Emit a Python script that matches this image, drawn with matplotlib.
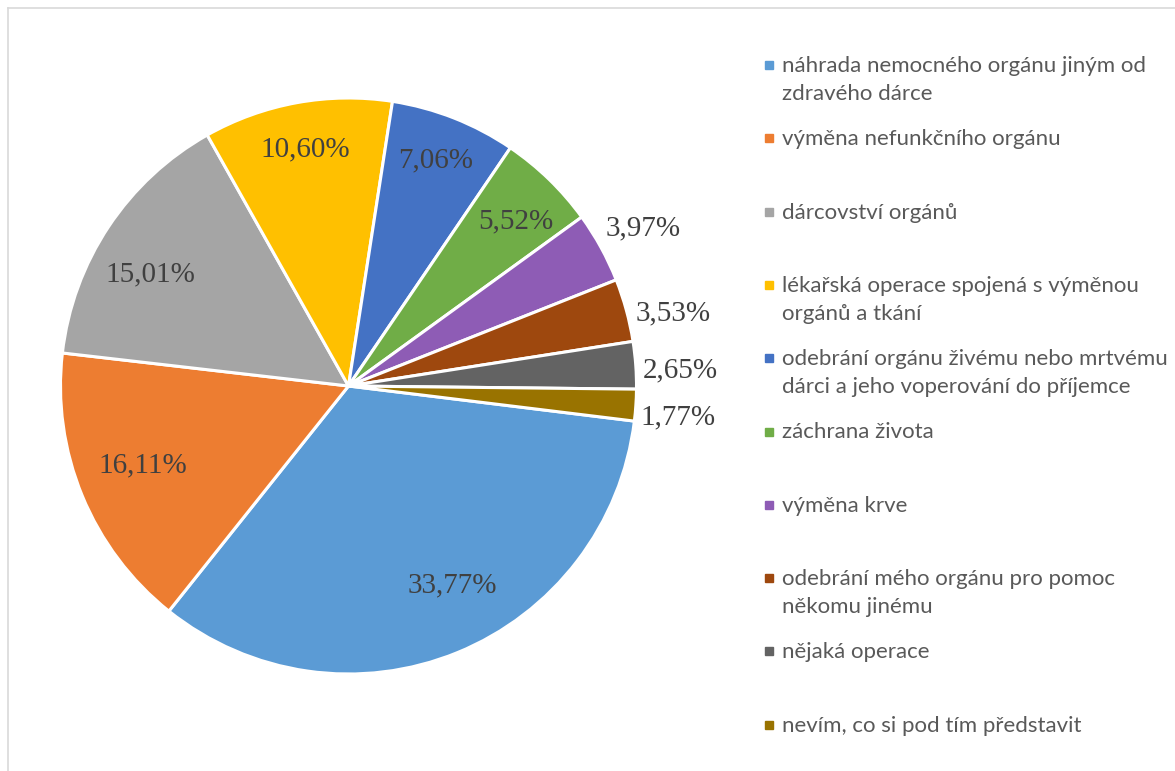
import numpy as np
import matplotlib
matplotlib.use("Agg")
import matplotlib.pyplot as plt
from matplotlib.patches import Rectangle
from matplotlib.lines import Line2D

labels = [
    "náhrada nemocného orgánu jiným od\nzdravého dárce",
    "výměna nefunkčního orgánu",
    "dárcovství orgánů",
    "lékařská operace spojená s výměnou\norgánů a tkání",
    "odebrání orgánu živému nebo mrtvému\ndárci a jeho voperování do příjemce",
    "záchrana života",
    "výměna krve",
    "odebrání mého orgánu pro pomoc\nněkomu jinému",
    "nějaká operace",
    "nevím, co si pod tím představit",
]
shares = [33.77, 16.11, 15.01, 10.60, 7.06, 5.52, 3.97, 3.53, 2.65, 1.77]
colors = ["#5B9BD5", "#ED7D31", "#A5A5A5", "#FFC000", "#4472C4",
          "#70AD47", "#8E5CB5", "#9E480E", "#636363", "#997300"]

# label placement: distance from centre (in radii) and angle nudge (deg)
label_dist = [0.78, 0.765, 0.79, 0.836, 0.84, 0.815, 1.16, 1.157, 1.155, 1.15]
label_nudge = [5.4, -1.3, 4.3, 0.0, 0.5, -1.4, -0.7, -2.6, -1.4, -1.6]

W, H = 1175, 771
fig = plt.figure(figsize=(W / 100, H / 100), dpi=100)

# pie centre and radius in pixels
cx, cy, R = 348.5, 386, 288
ax = fig.add_axes([(cx - R) / W, (H - cy - R) / H, 2 * R / W, 2 * R / H])
wedges, _ = ax.pie(shares, colors=colors, startangle=-7, counterclock=False,
                   radius=1, wedgeprops=dict(edgecolor="white", linewidth=2.2))
ax.set_xlim(-1, 1)
ax.set_ylim(-1, 1)
ax.set_aspect("equal")
ax.axis("off")

for w, val, d, nd in zip(wedges, shares, label_dist, label_nudge):
    mid = np.deg2rad((w.theta1 + w.theta2) / 2 + nd)
    txt = f"{val:.2f}%".replace(".", ",")
    ax.text(d * np.cos(mid), d * np.sin(mid), txt, ha="center", va="center",
            fontsize=21, family="Liberation Serif", color="#404040", clip_on=False)

# legend drawn by hand, evenly spaced entries
lx, ly0, step, line_h = 769, 65, 73.3, 28
for i, (lab, col) in enumerate(zip(labels, colors)):
    yc = ly0 + i * step
    fig.patches.append(Rectangle(((lx - 4) / W, 1 - (yc + 4) / H), 8 / W, 8 / H,
                                 transform=fig.transFigure, color=col))
    for k, line in enumerate(lab.split("\n")):
        fig.text(782 / W, 1 - (yc + 7 + k * line_h) / H, line, ha="left",
                 va="baseline", fontsize=16, family="Lato", color="#595959")

# chart frame (top and left sides visible)
fig.lines.append(Line2D([8 / W, 1], [1 - 8 / H, 1 - 8 / H], transform=fig.transFigure,
                        color="#D9D9D9", linewidth=1.2))
fig.lines.append(Line2D([8 / W, 8 / W], [0, 1 - 8 / H], transform=fig.transFigure,
                        color="#D9D9D9", linewidth=1.2))

fig.savefig("out.png", dpi=100, facecolor="white")
